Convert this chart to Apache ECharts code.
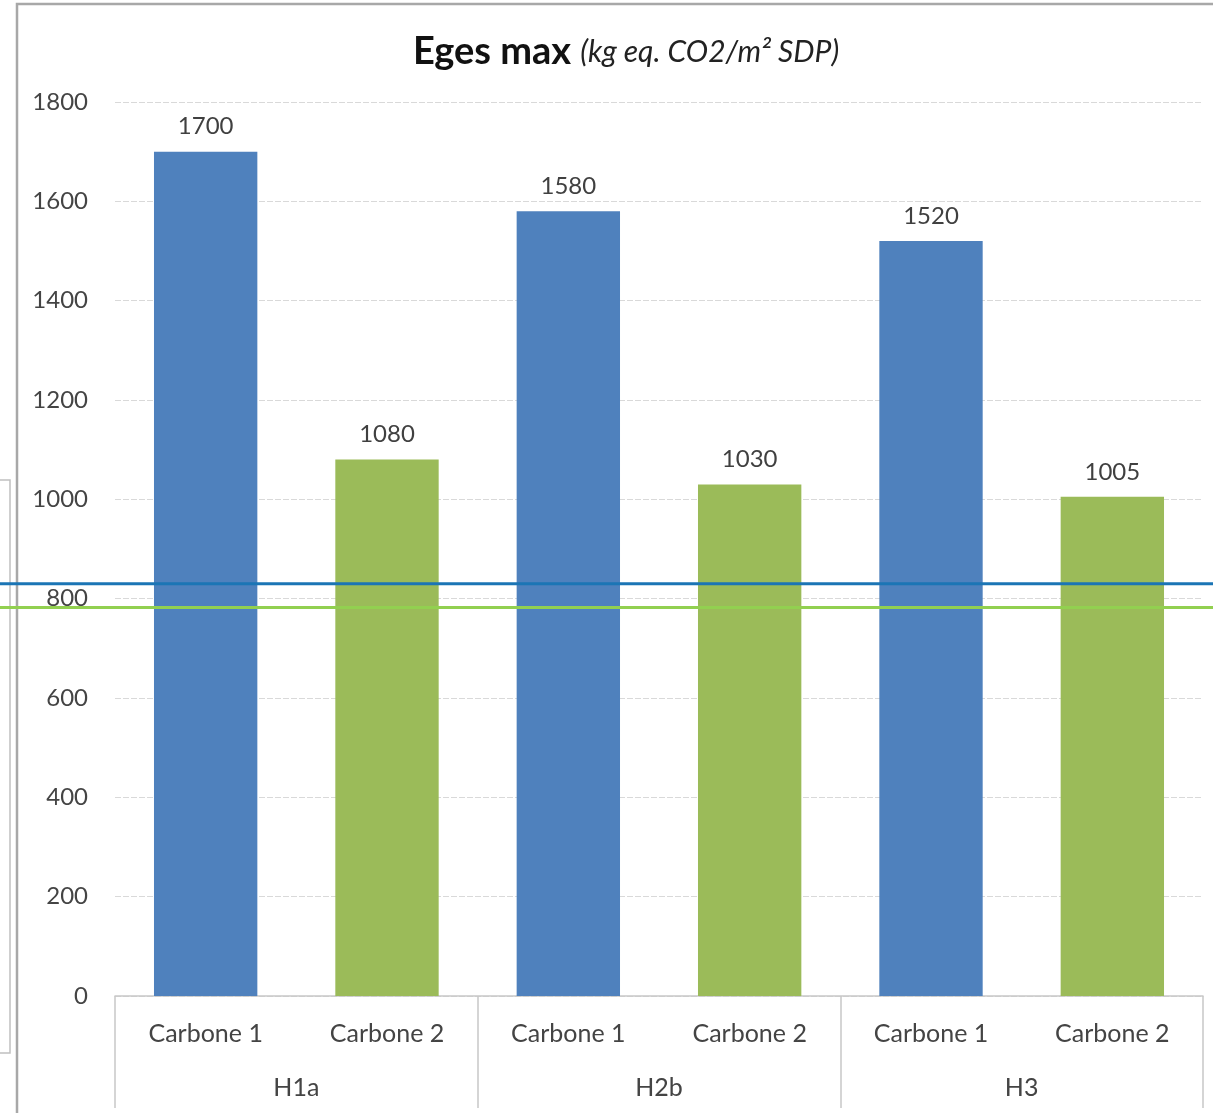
<!DOCTYPE html>
<html>
<head>
<meta charset="utf-8">
<script src="https://cdn.jsdelivr.net/npm/echarts@6/dist/echarts.min.js"></script>
<style>
  html, body { margin: 0; padding: 0; background: #fff; }
  #chart { width: 1213px; height: 1113px; }
</style>
</head>
<body>
<div id="chart"></div>
<script>
// Values per scenario / carbon variant
const groups = ['H1a', 'H2b', 'H3'];
const variants = ['Carbone 1', 'Carbone 2'];
const values = [1700, 1080, 1580, 1030, 1520, 1005];
const yTicks = { min: 0, max: 1800, interval: 200 };
// Horizontal threshold levels drawn across the whole figure
const thresholdLevels = [830, 782];
const thresholdColors = ['#1B75B5', '#92D050'];

const barColors = ['#4F81BD', '#9BBB59'];
const fontFamily = 'Lato, "Open Sans", "Liberation Sans", sans-serif';

const categories = [];
groups.forEach(() => variants.forEach(v => categories.push(v)));

const chart = echarts.init(document.getElementById('chart'));

const option = {
  animation: false,
  textStyle: { fontFamily },
  title: {
    text: '{b|Eges max} {i|(kg eq. CO2/m² SDP)}',
    left: 621,
    textAlign: 'center',
    top: 28,
    textStyle: {
      fontWeight: 'normal',
      fontSize: 20,
      rich: {
        b: { fontSize: 38, fontWeight: 'bold', color: '#111', fontFamily, padding: [0, 4, 0, 0] },
        i: { fontSize: 30, fontWeight: 'normal', fontStyle: 'italic', color: '#222', fontFamily }
      }
    }
  },
  grid: { left: 115, right: 10, top: 102, bottom: 117, containLabel: false },
  xAxis: [
    {
      type: 'category',
      data: categories,
      axisLine: { show: true, lineStyle: { color: '#c8c8c8', width: 1.5 } },
      axisTick: { show: false },
      axisLabel: { color: '#444', fontSize: 25, margin: 25, interval: 0 }
    },
    {
      type: 'category',
      data: groups,
      position: 'bottom',
      axisLine: { show: false },
      axisTick: { show: true, length: 112, interval: 0, lineStyle: { color: '#c8c8c8', width: 1.5 } },
      axisLabel: { color: '#444', fontSize: 25, margin: 79, interval: 0 }
    }
  ],
  yAxis: {
    type: 'value',
    min: yTicks.min,
    max: yTicks.max,
    interval: yTicks.interval,
    axisLine: { show: false },
    axisTick: { show: false },
    axisLabel: { color: '#444', fontSize: 24, margin: 27, formatter: v => String(v) },
    splitLine: { lineStyle: { color: '#d9d9d9', width: 1.2, type: [6, 2] } }
  },
  series: [{
    type: 'bar',
    xAxisIndex: 0,
    barWidth: '57%',
    data: values.map((v, i) => ({ value: v, itemStyle: { color: barColors[i % 2] } })),
    label: {
      show: true,
      position: 'top',
      distance: 13,
      color: '#404040',
      fontSize: 24
    }
  }]
};

chart.setOption(option);

// Outer frame, side box and threshold lines, placed through the value axis scale
function drawOverlays() {
  const W = chart.getWidth();
  const elements = [
    {
      type: 'rect',
      shape: { x: 17, y: 4, width: W + 20, height: 1200 },
      style: { fill: 'none', stroke: '#a8a8a8', lineWidth: 2.5 },
      z: 0, silent: true
    },
    {
      type: 'rect',
      shape: { x: -20, y: 480, width: 30, height: 573 },
      style: { fill: 'none', stroke: '#c0c0c0', lineWidth: 1.5 },
      z: 0, silent: true
    }
  ];
  thresholdLevels.forEach((lvl, i) => {
    const y = chart.convertToPixel({ yAxisIndex: 0 }, lvl);
    elements.push({
      type: 'line',
      shape: { x1: 0, y1: y, x2: W, y2: y },
      style: { stroke: thresholdColors[i], lineWidth: 3 },
      z: 100, silent: true
    });
  });
  chart.setOption({ graphic: { elements } });
}
drawOverlays();
</script>
</body>
</html>
